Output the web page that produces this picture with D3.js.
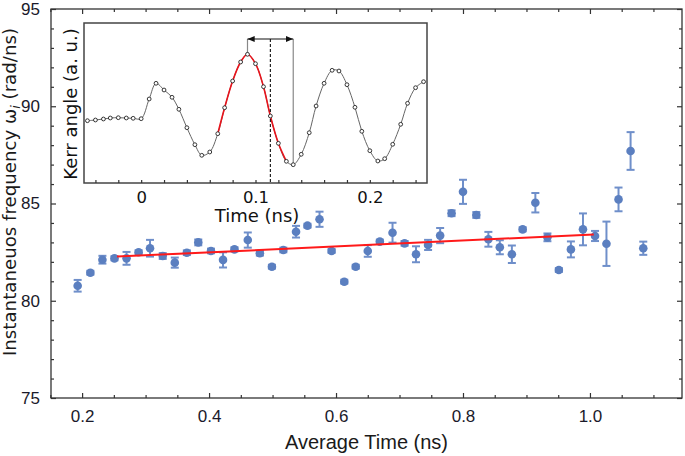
<!DOCTYPE html>
<html><head><meta charset="utf-8">
<script src="https://cdn.jsdelivr.net/npm/d3@7"></script>
<style>body{margin:0;background:#fff}svg{display:block}</style>
</head><body>
<svg id="c" width="685" height="456"></svg>
<script>
// Main data
const avgTime = [0.193,0.213,0.232,0.251,0.270,0.289,0.307,0.327,0.346,0.365,0.383,0.403,0.422,0.440,0.461,0.480,0.499,0.517,0.537,0.555,0.574,0.593,0.613,0.631,0.650,0.669,0.689,0.708,0.726,0.745,0.764,0.782,0.800,0.821,0.840,0.858,0.877,0.894,0.914,0.933,0.951,0.970,0.989,1.008,1.026,1.045,1.064,1.084];
const freq = [80.77,81.44,82.11,82.18,82.18,82.49,82.70,82.30,81.96,82.47,83.00,82.56,82.10,82.64,83.12,82.44,81.75,82.61,83.55,83.86,84.19,82.56,80.98,81.75,82.56,83.04,83.50,82.95,82.39,82.87,83.35,84.50,85.60,84.41,83.16,82.75,82.39,83.67,85.04,83.26,81.58,82.64,83.67,83.33,82.93,85.21,87.70,82.70];
const freqErr = [0.30,0.10,0.20,0.10,0.33,0.10,0.43,0.15,0.26,0.12,0.15,0.12,0.39,0.10,0.39,0.12,0.10,0.12,0.30,0.10,0.39,0.10,0.10,0.10,0.30,0.10,0.51,0.12,0.41,0.26,0.39,0.15,0.62,0.15,0.38,0.36,0.45,0.10,0.50,0.20,0.10,0.41,0.82,0.26,1.14,0.61,0.97,0.34];
const fitTime = [0.255, 1.006];
const fitFreq = [82.27, 83.41];
const xMajor = [0.2,0.4,0.6,0.8,1.0];
const xMinor = [0.15,0.25,0.3,0.35,0.45,0.5,0.55,0.65,0.7,0.75,0.85,0.9,0.95,1.05,1.1];
const yMajor = [75,80,85,90,95];

// Inset data (Kerr angle, arbitrary units)
const kTime = [-0.047,-0.040,-0.033,-0.027,-0.020,-0.013,-0.007,0.000,0.007,0.013,0.020,0.027,0.033,0.040,0.047,0.053,0.060,0.067,0.073,0.080,0.087,0.093,0.100,0.107,0.113,0.120,0.127,0.133,0.140,0.147,0.153,0.160,0.167,0.173,0.180,0.187,0.193,0.200,0.207,0.213,0.220,0.227,0.233,0.240,0.247];
const kerr = [62.3,63,64,65,65.3,65,64.7,64.3,84,99.7,93,85.7,73.7,55.3,38.3,27.7,31,49.3,75.3,102,121,128.7,119.3,96.3,67,39.7,21.7,18.3,28.7,50.3,77,99.7,112.7,112,98.3,75.7,51.7,32.3,22,24.3,38.7,58.7,79.7,95.3,101.3];
const fitRange = [17, 26]; // indices of red fitted segment
const peakT = 0.093, midT = 0.113, troughT = 0.133, arrowLevel = 144;
const ixMajor = [0, 0.1, 0.2];
const ixTicks = [-0.04,-0.02,0,0.02,0.04,0.06,0.08,0.1,0.12,0.14,0.16,0.18,0.2,0.22,0.24];

const svg = d3.select("#c");
const L=51,R=682,T=9,B=398;
const x = d3.scaleLinear([0.151,1.145],[L,R]);
const y = d3.scaleLinear([75,95],[B,T]);
const frameCol = "#333";
const tickFont = "Liberation Sans, Arial, sans-serif";

// frame
svg.append("rect").attr("x",L).attr("y",T).attr("width",R-L).attr("height",B-T)
  .attr("fill","none").attr("stroke",frameCol).attr("stroke-width",1.3);

function styleAxis(g){ g.select(".domain").remove(); g.selectAll("line").attr("stroke",frameCol).attr("stroke-width",1.2); }
// x axis bottom
svg.append("g").attr("transform",`translate(0,${B})`)
  .call(d3.axisBottom(x).tickValues(xMajor).tickSize(-5).tickPadding(12).tickFormat(d3.format(".1f")))
  .call(styleAxis).call(g=>g.selectAll("text").attr("font-family",tickFont).attr("font-size",17).attr("fill","#1a1a2a"));
svg.append("g").attr("transform",`translate(0,${B})`)
  .call(d3.axisBottom(x).tickValues(xMinor).tickSize(-3).tickFormat("")).call(styleAxis);
// x axis top
svg.append("g").attr("transform",`translate(0,${T})`)
  .call(d3.axisTop(x).tickValues(xMajor).tickSize(-5).tickFormat("")).call(styleAxis);
svg.append("g").attr("transform",`translate(0,${T})`)
  .call(d3.axisTop(x).tickValues(xMinor).tickSize(-3).tickFormat("")).call(styleAxis);
// y axis
const yMinor = d3.range(76,95).filter(v=>v%5!==0);
svg.append("g").attr("transform",`translate(${L},0)`)
  .call(d3.axisLeft(y).tickValues(yMajor).tickSize(-5).tickPadding(11))
  .call(styleAxis).call(g=>g.selectAll("text").attr("font-family",tickFont).attr("font-size",17).attr("fill","#1a1a2a"));
svg.append("g").attr("transform",`translate(${L},0)`)
  .call(d3.axisLeft(y).tickValues(yMinor).tickSize(-3).tickFormat("")).call(styleAxis);
svg.append("g").attr("transform",`translate(${R},0)`)
  .call(d3.axisRight(y).tickValues(yMajor).tickSize(-5).tickFormat("")).call(styleAxis);
svg.append("g").attr("transform",`translate(${R},0)`)
  .call(d3.axisRight(y).tickValues(yMinor).tickSize(-3).tickFormat("")).call(styleAxis);

// titles
svg.append("text").attr("x",(L+R)/2).attr("y",449).attr("text-anchor","middle")
  .attr("font-family",tickFont).attr("font-size",20).attr("fill","#1a1a1a").text("Average Time (ns)");
const yt = svg.append("text").attr("transform","translate(16,192) rotate(-90)").attr("text-anchor","middle")
  .attr("font-family","DejaVu Sans, sans-serif").attr("font-size",18.2).attr("fill","#1a1a1a");
yt.append("tspan").text("Instantaneuos frequency ω");
yt.append("tspan").attr("font-style","italic").attr("font-size",12.5).attr("dy",4).text("i");
yt.append("tspan").attr("dy",-4).text(" (rad/ns)");

// data
const blue = "#5b7fc0", errCol = "#6f8fca";
const gd = svg.append("g");
const idx = d3.range(avgTime.length);
gd.selectAll("line.eb").data(idx).join("line")
  .attr("x1",i=>x(avgTime[i])).attr("x2",i=>x(avgTime[i]))
  .attr("y1",i=>y(freq[i]-freqErr[i])).attr("y2",i=>y(freq[i]+freqErr[i]))
  .attr("stroke",errCol).attr("stroke-width",2);
[-1,1].forEach(s=>{
  gd.selectAll(null).data(idx).join("line")
    .attr("x1",i=>x(avgTime[i])-4).attr("x2",i=>x(avgTime[i])+4)
    .attr("y1",i=>y(freq[i]+s*freqErr[i])).attr("y2",i=>y(freq[i]+s*freqErr[i]))
    .attr("stroke",errCol).attr("stroke-width",2);
});
gd.selectAll("circle").data(idx).join("circle")
  .attr("cx",i=>x(avgTime[i])).attr("cy",i=>y(freq[i])).attr("r",4.3).attr("fill",blue);
// fit line
svg.append("line").attr("x1",x(fitTime[0])).attr("x2",x(fitTime[1]))
  .attr("y1",y(fitFreq[0])).attr("y2",y(fitFreq[1])).attr("stroke","#ff1a1a").attr("stroke-width",2);

// Inset
const IL=84,IR=427,IT=23,IB=183;
const ix = d3.scaleLinear([-0.05,0.25],[IL,IR]);
const iy = d3.scaleLinear([0,160],[IB,IT]);
const ig = svg.append("g");
ig.append("rect").attr("x",IL).attr("y",IT).attr("width",IR-IL).attr("height",IB-IT)
  .attr("fill","#fff").attr("stroke","#444").attr("stroke-width",1.5);
ig.append("g").attr("transform",`translate(0,${IB})`)
  .call(d3.axisBottom(ix).tickValues(ixTicks).tickSize(-3).tickFormat("")).call(styleAxis);
ig.append("g").attr("transform",`translate(0,${IB})`)
  .call(d3.axisBottom(ix).tickValues(ixMajor).tickSize(0).tickPadding(8).tickFormat(d=>d===0?"0":d3.format(".1f")(d)))
  .call(g=>g.select(".domain").remove())
  .call(g=>g.selectAll("text").attr("font-family","DejaVu Sans, sans-serif").attr("font-size",16.5).attr("fill","#111"));
ig.append("text").attr("x",257).attr("y",222).attr("text-anchor","middle")
  .attr("font-family","DejaVu Sans, sans-serif").attr("font-size",18).attr("fill","#111").text("Time (ns)");
ig.append("text").attr("transform","translate(76.5,104) rotate(-90)").attr("text-anchor","middle")
  .attr("font-family","DejaVu Sans, sans-serif").attr("font-size",18).attr("fill","#111").text("Kerr angle (a. u.)");

const kIdx = d3.range(kTime.length);
const kline = d3.line().x(i=>ix(kTime[i])).y(i=>iy(kerr[i])).curve(d3.curveCatmullRom);
ig.append("path").attr("d",kline(kIdx)).attr("fill","none").attr("stroke","#666").attr("stroke-width",1);
ig.append("path").attr("d",kline(d3.range(fitRange[0],fitRange[1]+1))).attr("fill","none").attr("stroke","#e8141c").attr("stroke-width",1.6);

// annotation lines
ig.append("line").attr("x1",ix(peakT)).attr("x2",ix(peakT)).attr("y1",iy(arrowLevel)).attr("y2",iy(128.7))
  .attr("stroke","#888").attr("stroke-width",1.2);
ig.append("line").attr("x1",ix(troughT)).attr("x2",ix(troughT)).attr("y1",iy(arrowLevel)).attr("y2",iy(18.3))
  .attr("stroke","#888").attr("stroke-width",1.2);
ig.append("line").attr("x1",ix(midT)).attr("x2",ix(midT)).attr("y1",iy(arrowLevel)).attr("y2",iy(0))
  .attr("stroke","#111").attr("stroke-width",1.1).attr("stroke-dasharray","3,2");
const defs = svg.append("defs");
defs.append("marker").attr("id","ah").attr("viewBox","0 0 10 10").attr("refX",10).attr("refY",5)
  .attr("markerWidth",6).attr("markerHeight",6).attr("orient","auto-start-reverse")
  .append("path").attr("d","M0,1 L10,5 L0,9 z").attr("fill","#111");
ig.append("line").attr("x1",ix(peakT)).attr("x2",ix(troughT)).attr("y1",iy(arrowLevel)).attr("y2",iy(arrowLevel))
  .attr("stroke","#111").attr("stroke-width",1.2).attr("marker-start","url(#ah)").attr("marker-end","url(#ah)");

ig.selectAll("circle").data(kIdx).join("circle")
  .attr("cx",i=>ix(kTime[i])).attr("cy",i=>iy(kerr[i])).attr("r",1.9)
  .attr("fill","#fff").attr("stroke","#222").attr("stroke-width",0.9);
</script>
</body></html>
